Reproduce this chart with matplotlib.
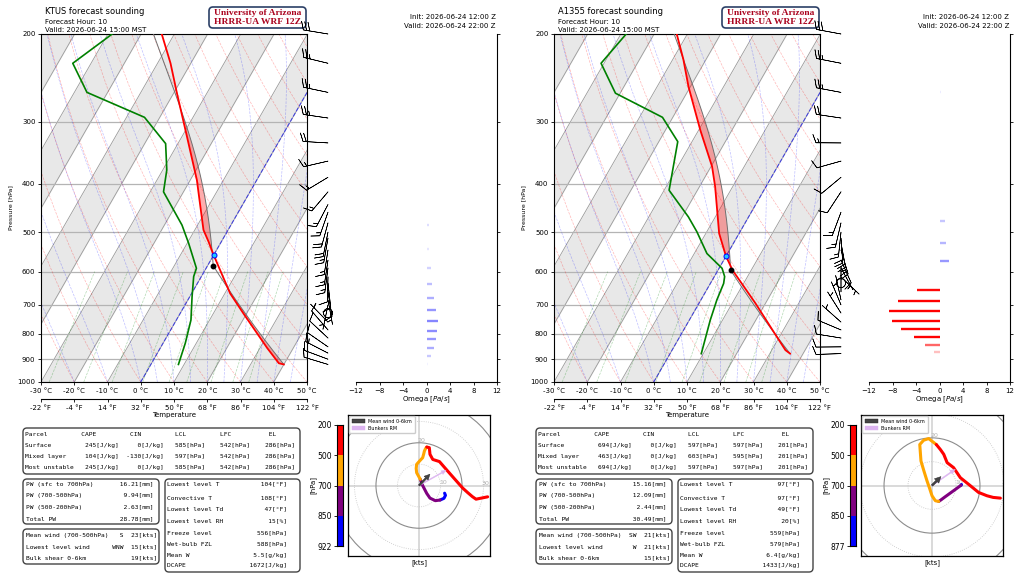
import numpy as np
import matplotlib
matplotlib.use("Agg")
import matplotlib.pyplot as plt
from matplotlib.patches import FancyBboxPatch, Circle
from matplotlib.ticker import NullLocator
from matplotlib.colors import Normalize

plt.rcParams['font.family'] = ['DejaVu Sans']

# ===================== DATA =====================
init_str = "Init: 2026-06-24 12:00 Z"
valid_z_str = "Valid: 2026-06-24 22:00 Z"
valid_local_str = "Valid: 2026-06-24 15:00 MST"
fhour_str = "Forecast Hour: 10"
stations = ["KTUS", "A1355"]

# --- KTUS ---
ktus_t_p = [922, 917, 855, 728, 664, 556, 523, 495, 444, 393, 322, 263, 229, 200]
ktus_t = [40.0, 38.3, 32.2, 19.0, 11.6, 0.0, -3.8, -7.4, -12.4, -18.0, -28.4, -39.0, -46.1, -53.8]
ktus_td_p = [922, 836, 751, 674, 614, 591, 527, 484, 415, 375, 332, 294, 262, 229, 200]
ktus_td = [8.3, 6.7, 4.4, 0.7, -2.3, -2.9, -9.5, -14.7, -26.0, -28.8, -33.7, -44.6, -66.2, -75.5, -68.7]
ktus_freeze_p = 556
ktus_omega_p = [483, 541, 591, 635, 677, 716, 753, 789, 821, 855, 886, 920]
ktus_omega = [0.5, 0.4, 0.7, 1.0, 1.25, 1.65, 1.9, 1.8, 1.65, 1.3, 0.85, 0.2]
ktus_wind_p = [922, 900, 875, 850, 816, 786, 758, 727, 700, 684, 659, 633, 615, 590, 569,
               543, 514, 500, 479, 456, 440, 415, 388, 360, 331, 295, 262, 229, 200]
ktus_u = [11.9, 12.3, 11.6, 9.8, 7.6, 5.1, 3.6, 1.7, 0.6, -1.1, -1.3, -1.1, 0.3, 1.7, 2.2,
          2.5, 3.0, 3.6, 4.8, 5.1, 6.4, 9.5, 12.6, 16.0, 20.3, 22.6, 24.8, 26.5, 31.9]
ktus_v = [-3.6, -4.6, -6.0, -6.8, -7.1, -5.9, -3.7, 0.0, 2.9, 6.0, 8.0, 9.9, 11.5, 13.0, 14.8,
          16.1, 17.2, 18.0, 17.7, 14.6, 12.2, 11.2, 7.6, 3.7, -1.2, -3.3, -5.2, -6.4, -5.3]
ktus_mean_wind = [5.1, 5.3]
ktus_bunkers = [12.6, 7.1]
ktus_parcel = [("Surface", "245[J/kg]", "0[J/kg]", "585[hPa]", "542[hPa]", "286[hPa]"),
               ("Mixed layer", "104[J/kg]", "-130[J/kg]", "597[hPa]", "542[hPa]", "286[hPa]"),
               ("Most unstable", "245[J/kg]", "0[J/kg]", "585[hPa]", "542[hPa]", "286[hPa]")]
ktus_pw = ["16.21[mm]", "9.94[mm]", "2.63[mm]", "28.78[mm]"]
ktus_wind_dir = ["S", "WNW", ""]
ktus_wind_spd = ["23[kts]", "15[kts]", "19[kts]"]
ktus_thermo = ["104[°F]", "108[°F]", "47[°F]", "15[%]", "556[hPa]", "588[hPa]", "5.5[g/kg]", "1672[J/kg]"]

# --- A1355 ---
a_t_p = [877, 863, 799, 695, 614, 598, 559, 503, 405, 369, 312, 255, 225, 200]
a_t = [36.1, 34.1, 28.0, 17.0, 6.8, 4.6, 0.0, -6.0, -15.3, -19.7, -29.5, -40.6, -46.8, -53.2]
a_td_p = [877, 751, 684, 634, 614, 591, 552, 499, 466, 412, 329, 294, 263, 229, 200]
a_td = [9.4, 6.3, 4.8, 4.0, 3.1, 0.9, -6.2, -13.0, -18.1, -28.5, -34.3, -43.1, -61.4, -70.9, -68.4]
a_freeze_p = 559
a_omega_p = [262, 474, 527, 572, 652, 688, 720, 753, 784, 813, 843, 869]
a_omega = [0.3, 0.9, 1.15, 1.6, -3.85, -7.0, -8.6, -8.1, -6.5, -4.3, -2.4, -1.0]
a_wind_p = [877, 850, 816, 786, 758, 727, 700, 684, 659, 633, 615, 590, 569, 543, 525, 514,
            500, 479, 456, 415, 388, 360, 331, 295, 262, 229, 200]
a_u = [12.3, 12.1, 9.8, 7.6, 5.4, 3.8, 2.8, 1.4, 0.0, -1.0, -2.1, -3.4, -4.6, -5.1, -3.5, -1.4,
       1.8, 3.5, 4.9, 6.3, 9.0, 11.8, 16.0, 19.4, 22.9, 25.5, 28.5]
a_v = [0.4, 0.1, -1.6, -3.2, -4.8, -6.0, -6.7, -6.4, -4.3, -1.2, 2.0, 6.2, 10.3, 17.2, 19.0, 19.7,
       17.2, 15.1, 13.1, 9.6, 7.5, 3.3, -0.1, -2.9, -4.3, -5.0, -5.3]
a_mean_wind = [3.75, 3.75]
a_bunkers = [9.7, 6.8]
a_parcel = [("Surface", "694[J/kg]", "0[J/kg]", "597[hPa]", "597[hPa]", "201[hPa]"),
            ("Mixed layer", "463[J/kg]", "0[J/kg]", "603[hPa]", "595[hPa]", "201[hPa]"),
            ("Most unstable", "694[J/kg]", "0[J/kg]", "597[hPa]", "597[hPa]", "201[hPa]")]
a_pw = ["15.16[mm]", "12.09[mm]", "2.44[mm]", "30.49[mm]"]
a_wind_dir = ["SW", "W", ""]
a_wind_spd = ["21[kts]", "21[kts]", "15[kts]"]
a_thermo = ["97[°F]", "97[°F]", "49[°F]", "20[%]", "559[hPa]", "579[hPa]", "6.4[g/kg]", "1433[J/kg]"]

pw_labels = ["PW (sfc to 700hPa)", "PW (700-500hPa)", "PW (500-200hPa)", "Total PW"]
wind_labels = ["Mean wind (700-500hPa)", "Lowest level wind", "Bulk shear 0-6km"]
thermo_labels = ["Lowest level T", "Convective T", "Lowest level Td", "Lowest level RH",
                 "Freeze level", "Wet-bulb FZL", "Mean W", "DCAPE"]
p_ticks = [200, 300, 400, 500, 600, 700, 800, 900, 1000]
t_ticks = [-30, -20, -10, 0, 10, 20, 30, 40, 50]
f_ticks = [-22, -4, 14, 32, 50, 68, 86, 104, 122]
omega_ticks = [-12, -8, -4, 0, 4, 8, 12]
layer_bounds = [850, 700, 500]
layer_colors = ['blue', 'purple', 'orange', 'red']

# ===================== PHYSICS =====================
Rd = 287.04749; Cp = 1004.66; Lv = 2.50084e6; EPS = 0.6219569; KAP = Rd / Cp
SKEW = 86.0


def skx(t, p):
    return np.asarray(t, float) + SKEW * np.log10(1000.0 / np.asarray(p, float))


def sat_vp(tc):
    return 6.112 * np.exp(17.67 * tc / (tc + 243.5))


def moist_dtdp(tk, p):
    e = sat_vp(tk - 273.15)
    r = EPS * e / (p - e)
    return (Rd * tk + Lv * r) / (Cp + Lv * Lv * r * EPS / (Rd * tk * tk)) / p


def moist_lapse(t0k, p):
    tk = np.array(t0k, float)
    out = [tk.copy()]
    for i in range(1, len(p)):
        h = p[i] - p[i - 1]
        q = p[i - 1]
        k1 = moist_dtdp(tk, q)
        k2 = moist_dtdp(tk + .5 * h * k1, q + .5 * h)
        k3 = moist_dtdp(tk + .5 * h * k2, q + .5 * h)
        k4 = moist_dtdp(tk + h * k3, q + h)
        tk = tk + h * (k1 + 2 * k2 + 2 * k3 + k4) / 6
        out.append(tk.copy())
    return np.array(out)


def parcel_profile(psfc, tsfc, tdsfc):
    tk = tsfc + 273.15
    tdk = tdsfc + 273.15
    tl = 1.0 / (1.0 / (tdk - 56.0) + np.log(tk / tdk) / 800.0) + 56.0
    pl = psfc * (tl / tk) ** (1.0 / KAP)
    p_dry = np.linspace(psfc, pl, 40)
    t_dry = tk * (p_dry / psfc) ** KAP
    p_moist = np.linspace(pl, 200, 300)
    t_moist = moist_lapse(tl, p_moist)
    p = np.concatenate([p_dry, p_moist[1:]])
    t = np.concatenate([t_dry, t_moist[1:]]) - 273.15
    return p, t, pl, tl - 273.15


# ===================== FIGURE =====================
W, H = 1024, 575
fig = plt.figure(figsize=(W / 100, H / 100), dpi=100)


def rect(x0, y0, x1, y1):
    return [x0 / W, 1 - y1 / H, (x1 - x0) / W, (y1 - y0) / H]


ov = fig.add_axes([0, 0, 1, 1])
ov.set_xlim(0, W)
ov.set_ylim(H, 0)
ov.axis('off')

MONO = 'DejaVu Sans Mono'
MFS = 4.47


def box(x0, y0, x1, y1, ec='#444444', lw=1.0):
    ov.add_patch(FancyBboxPatch((x0, y0), x1 - x0, y1 - y0,
                                boxstyle='round,pad=0,rounding_size=4',
                                fc='none', ec=ec, lw=lw))


def mtext(x, y, s):
    ov.text(x, y, s, fontsize=MFS, family=MONO, va='center', ha='left')


def draw_panel(off, name, t_p, t, td_p, td, freeze_p, om_p, om, w_p, u, v,
               mean_uv, bunk_uv, hodo_lim, parcel_rows, pw_vals, wdirs, wspds, thermo_vals):
    t_p = np.asarray(t_p, float); t = np.asarray(t, float)
    td_p = np.asarray(td_p, float); td = np.asarray(td, float)
    w_p = np.asarray(w_p, float); u = np.asarray(u, float); v = np.asarray(v, float)

    # ---------- titles ----------
    ov.text(45 + off, 11, f"{name} forecast sounding", fontsize=6.0, va='center', ha='left')
    ov.text(45 + off, 21.5, fhour_str, fontsize=5, va='center', ha='left')
    ov.text(45 + off, 29.5, valid_local_str, fontsize=5, va='center', ha='left')
    ov.text(496 + off, 17.3, init_str, fontsize=5, va='center', ha='right')
    ov.text(496 + off, 25.7, valid_z_str, fontsize=5, va='center', ha='right')
    box(209 + off, 7, 306 + off, 28, ec='#2b3f66', lw=1.2)
    ov.text(257.5 + off, 13.3, "University of Arizona", fontsize=6.8, fontweight='bold',
            family='Liberation Serif', color='#AB0520', va='center', ha='center')
    ov.text(257.5 + off, 21.8, "HRRR-UA WRF 12Z", fontsize=6.8, fontweight='bold',
            family='Liberation Serif', color='#AB0520', va='center', ha='center')

    # ---------- skew-T ----------
    ax = fig.add_axes(rect(41 + off, 34, 307 + off, 382))
    ax.set_yscale('log')
    ax.set_ylim(1000, 200)
    ax.set_xlim(-30, 50)
    pp = np.array([1000.0, 200.0])
    for t0 in range(-90, 50, 20):
        ax.fill_betweenx(pp, skx(t0, pp), skx(t0 + 10, pp), color='#e8e8e8', lw=0, zorder=0)
    for t0 in range(-100, 51, 10):
        ax.plot(skx(t0, pp), pp, color='#9a9a9a', lw=0.6, zorder=1)
    for pt in p_ticks:
        ax.axhline(pt, color='#b4b4b4', lw=0.9, zorder=1)
    pg = np.geomspace(1000, 200, 60)
    for th in range(-30, 201, 10):
        tt = (th + 273.15) * (pg / 1000.0) ** KAP - 273.15
        ax.plot(skx(tt, pg), pg, color='red', alpha=0.28, lw=0.5, ls='--', zorder=1)
    t0m = np.concatenate([np.arange(-30, 0, 10), np.arange(0, 51, 5)]) + 273.15
    pgm = np.linspace(1000, 200, 81)
    tm = moist_lapse(t0m, pgm) - 273.15
    for j in range(tm.shape[1]):
        ax.plot(skx(tm[:, j], pgm), pgm, color='blue', alpha=0.25, lw=0.5, ls='--', zorder=1)
    pmx = np.linspace(1000, 600, 20)
    for w in [0.0004, 0.001, 0.002, 0.004, 0.007, 0.01, 0.016, 0.024, 0.032]:
        e = w * pmx / (EPS + w)
        lg = np.log(e / 6.112)
        tdm = 243.5 * lg / (17.67 - lg)
        ax.plot(skx(tdm, pmx), pmx, color='green', alpha=0.3, lw=0.5, ls='--', zorder=1)
    ax.plot(skx(0, pp), pp, color='blue', alpha=0.6, lw=0.8, ls='--', zorder=2)

    # parcel
    prp, prt, p_lcl, t_lcl = parcel_profile(t_p[0], t[0], td[0])
    env = np.interp(-np.log(prp), -np.log(t_p), t)
    ax.fill_betweenx(prp, skx(env, prp), skx(prt, prp), where=prt > env, interpolate=True,
                     color='red', alpha=0.32, lw=0, zorder=3)
    ax.plot(skx(prt, prp), prp, color='#707070', lw=0.7, zorder=4)
    ax.plot(skx(t, t_p), t_p, color='red', lw=1.3, zorder=5)
    ax.plot(skx(td, td_p), td_p, color='green', lw=1.2, zorder=5)
    ax.plot(skx(t_lcl, p_lcl), p_lcl, 'o', color='black', ms=3.2, zorder=6)
    ax.plot(skx(0, freeze_p), freeze_p, 'o', mfc='#1ec8ff', mec='blue', mew=0.7, ms=3.6, zorder=6)

    ax.yaxis.set_major_locator(plt.FixedLocator(p_ticks))
    ax.yaxis.set_minor_locator(NullLocator())
    ax.set_yticklabels([str(x) for x in p_ticks])
    ax.set_xticks(t_ticks)
    ax.set_xticklabels([f"{x} °C" for x in t_ticks])
    ax.tick_params(axis='both', labelsize=5, length=2.5, width=0.6, pad=1.5)
    ax.set_ylabel('Pressure [hPa]', fontsize=4.5, labelpad=3)
    for s in ax.spines.values():
        s.set_linewidth(0.8)
    sec = ax.secondary_xaxis(-0.049, functions=(lambda c: np.asarray(c) * 1.8 + 32,
                                                 lambda f: (np.asarray(f) - 32) / 1.8))
    sec.set_xticks(f_ticks)
    sec.set_xticklabels([f"{x} °F" for x in f_ticks])
    sec.tick_params(labelsize=5, length=2.5, width=0.6, pad=1.5)
    sec.spines['bottom'].set_linewidth(0.8)
    sec.set_xlabel('Temperature', fontsize=5, labelpad=1)

    # ---------- wind barbs ----------
    axb = fig.add_axes(rect(300 + off, 34, 356 + off, 382))
    axb.set_yscale('log')
    axb.set_ylim(1000, 200)
    axb.set_xlim(0, 1)
    axb.axis('off')
    axb.patch.set_alpha(0)
    axb.barbs(np.full(len(w_p), 0.5), w_p, u, v, length=6, lw=0.45, color='black',
              sizes=dict(spacing=0.13, height=0.33, emptybarb=0.18), clip_on=False)

    # ---------- omega ----------
    axo = fig.add_axes(rect(356 + off, 34, 497 + off, 382))
    axo.set_yscale('log')
    axo.set_ylim(1000, 200)
    axo.set_xlim(-12, 12)
    cmap = plt.get_cmap('bwr_r')
    norm = Normalize(-4, 4)
    for pv, wv in zip(om_p, om):
        axo.plot([0, wv], [pv, pv], color=cmap(norm(wv)), lw=1.7, solid_capstyle='butt')
    axo.spines['left'].set_visible(False)
    axo.spines['top'].set_visible(False)
    for s in ('right', 'bottom'):
        axo.spines[s].set_linewidth(0.8)
    axo.yaxis.tick_right()
    axo.yaxis.set_major_locator(plt.FixedLocator(p_ticks))
    axo.yaxis.set_minor_locator(NullLocator())
    axo.set_yticklabels([])
    axo.set_xticks(omega_ticks)
    axo.tick_params(axis='both', labelsize=5, length=2.5, width=0.6, pad=1.5)
    axo.set_xlabel('Omega [$Pa/s$]', fontsize=5, labelpad=1)

    # ---------- hodograph ----------
    axh = fig.add_axes(rect(348 + off, 415, 490 + off, 556))
    axh.set_xlim(-hodo_lim, hodo_lim)
    axh.set_ylim(-hodo_lim, hodo_lim)
    axh.set_xticks([])
    axh.set_yticks([])
    axh.axhline(0, color='#cfcfcf', lw=1.1, zorder=1)
    axh.axvline(0, color='#cfcfcf', lw=1.1, zorder=1)
    for r in (10, 20, 30, 40):
        solid = (r % 20 == 0)
        axh.add_patch(Circle((0, 0), r, fill=False, ec='#8c8c8c' if solid else '#c4c4c4',
                             lw=0.8 if solid else 0.6, ls='-' if solid else ':', zorder=1))
    axh.text(1.2, 21.0, '20', fontsize=4.5, color='#b0b0b0', ha='center', va='center', zorder=1)
    axh.text(11.4, 1.3, '10', fontsize=4.5, color='#b0b0b0', ha='center', va='center', zorder=1)
    axh.text(30.7, 1.1, '30', fontsize=4.5, color='#b0b0b0', ha='center', va='center', zorder=1,
             clip_on=True)
    edges = [np.inf] + layer_bounds + [0]
    for k, c in enumerate(layer_colors):
        m = (w_p <= edges[k]) & (w_p >= edges[k + 1])
        axh.plot(u[m], v[m], color=c, lw=2.2, solid_capstyle='round', solid_joinstyle='round', zorder=3)
    axh.arrow(0, 0, mean_uv[0], mean_uv[1], width=0.8, head_width=2.6, head_length=2.6,
              length_includes_head=True, fc='#444444', ec='#222222', lw=0.3, zorder=6,
              label='Mean wind 0-6km')
    axh.arrow(0, 0, bunk_uv[0], bunk_uv[1], width=0.45, head_width=1.9, head_length=2.2,
              length_includes_head=True, fc='#dcb4f0', ec='#dcb4f0', lw=0.3, zorder=5,
              label='Bunkers RM')
    axh.legend(loc='upper left', fontsize=3.5, borderpad=0.5, handlelength=2.6,
               handleheight=0.8, labelspacing=0.4, framealpha=1, edgecolor='#cccccc',
               borderaxespad=0.3)
    axh.set_xlabel('[kts]', fontsize=5, labelpad=2)
    for s in axh.spines.values():
        s.set_linewidth(0.9)

    # ---------- colorbar ----------
    axc = fig.add_axes(rect(337 + off, 425, 343 + off, 546))
    axc.set_xlim(0, 1)
    axc.set_ylim(0, 4)
    for k, c in enumerate(['blue', 'purple', 'orange', 'red']):
        axc.axhspan(k, k + 1, color=c, lw=0)
    axc.set_xticks([])
    axc.set_yticks([0, 1, 2, 3, 4])
    axc.set_yticklabels([str(int(w_p[0]))] + [str(b) for b in layer_bounds] + ['200'])
    axc.tick_params(axis='y', labelsize=5.5, length=2, width=0.6, pad=1.5)
    axc.set_ylabel('[hPa]', fontsize=5, labelpad=1)
    for s in axc.spines.values():
        s.set_linewidth(0.8)

    # ---------- tables ----------
    box(23 + off, 428, 300 + off, 474)
    header = f"{'Parcel':<15}{'CAPE':<13}{'CIN':<12}{'LCL':<12}{'LFC':<13}{'EL'}"
    rows_y = [434.3, 445.7, 456.7, 468.0]
    mtext(25 + off, rows_y[0], header)
    for yy, r in zip(rows_y[1:], parcel_rows):
        mtext(25 + off, yy, f"{r[0]:<16}{r[1]:>9}{r[2]:>12}{r[3]:>11}{r[4]:>12}{r[5]:>12}")

    box(23 + off, 479, 159 + off, 524)
    for yy, lab, val in zip([484.3, 496.0, 507.7, 518.7], pw_labels, pw_vals):
        mtext(25.7 + off, yy, f"{lab:<25}{val:>9}")

    box(23 + off, 529, 159 + off, 564)
    for yy, lab, d, sp in zip([535.7, 546.7, 557.7], wind_labels, wdirs, wspds):
        mtext(25.7 + off, yy, f"{lab:<22}{d:>4}{sp:>9}")

    box(165 + off, 479, 300 + off, 572)
    for yy, lab, val in zip([484.3, 497.7, 509.3, 521.0, 532.7, 544.0, 555.0, 566.0],
                            thermo_labels, thermo_vals):
        mtext(167.3 + off, yy, f"{lab:<20}{val:>12}")


draw_panel(0, stations[0], ktus_t_p, ktus_t, ktus_td_p, ktus_td, ktus_freeze_p,
           ktus_omega_p, ktus_omega, ktus_wind_p, ktus_u, ktus_v, ktus_mean_wind, ktus_bunkers,
           33.0, ktus_parcel, ktus_pw, ktus_wind_dir, ktus_wind_spd, ktus_thermo)
draw_panel(513, stations[1], a_t_p, a_t, a_td_p, a_td, a_freeze_p,
           a_omega_p, a_omega, a_wind_p, a_u, a_v, a_mean_wind, a_bunkers,
           29.6, a_parcel, a_pw, a_wind_dir, a_wind_spd, a_thermo)

fig.savefig("out.png", dpi=100)
